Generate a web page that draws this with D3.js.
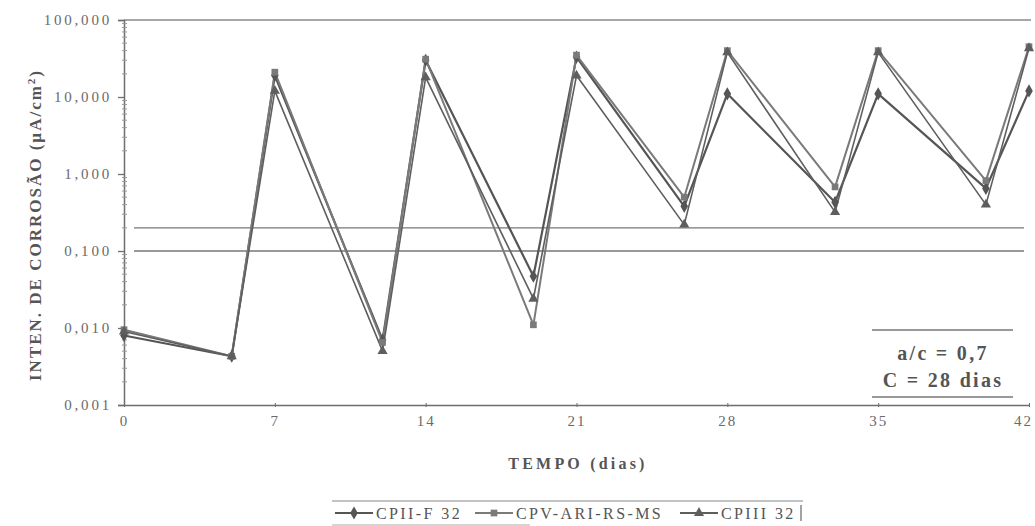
<!DOCTYPE html>
<html>
<head>
<meta charset="utf-8">
<script src="https://cdn.jsdelivr.net/npm/d3@7"></script>
<style>
  body { margin: 0; background: #fff; }
  svg text { font-family: "Liberation Serif", "DejaVu Serif", serif; }
</style>
</head>
<body>
<svg id="chart" width="1035" height="526"></svg>
<script>
// days of measurement
let days = [0, 5, 7, 12, 14, 19, 21, 26, 28, 33, 35, 40, 42];

// corrosion intensity (uA/cm2) per cement
let cpiiF32 = [0.008, 0.0043, 19, 0.007, 30, 0.047, 33, 0.38, 11, 0.43, 11, 0.65, 12];
let cpvAri = [0.0095, 0.0043, 21, 0.0065, 31, 0.011, 35, 0.5, 40, 0.68, 40, 0.82, 45];
let cpiii32 = [0.009, 0.0043, 12, 0.005, 18, 0.024, 19, 0.22, 38, 0.32, 38, 0.4, 43];

let seriesNames = ["CPII-F 32", "CPV-ARI-RS-MS", "CPIII 32"];
let xTicks = [0, 7, 14, 21, 28, 35, 42];
let yTicks = [0.001, 0.01, 0.1, 1, 10, 100];
let yTickLabels = ["0,001", "0,010", "0,100", "1,000", "10,000", "100,000"];
let refLines = [0.2, 0.1];

let series = [
  { name: seriesNames[0], values: cpiiF32, color: "#555", marker: "diamond", width: 2.2 },
  { name: seriesNames[1], values: cpvAri, color: "#7a7a7a", marker: "square", width: 2 },
  { name: seriesNames[2], values: cpiii32, color: "#5e5e5e", marker: "triangle", width: 1.6 }
];

var svg = d3.select("#chart");
var plotLeft = 124, plotRight = 1029, plotTop = 20, plotBottom = 405;

var x = d3.scaleLinear().domain([0, 42]).range([plotLeft, plotRight]);
var y = d3.scaleLog().domain([0.001, 100]).range([plotBottom, plotTop]);

var axisColor = "#6e6e6e";

// top frame line
svg.append("line")
  .attr("x1", plotLeft).attr("x2", plotRight + 2)
  .attr("y1", plotTop).attr("y2", plotTop)
  .attr("stroke", "#8a8a8a").attr("stroke-width", 1.3);

// reference lines
svg.selectAll(".ref")
  .data(refLines)
  .enter().append("line")
  .attr("class", "ref")
  .attr("x1", plotLeft + 10).attr("x2", plotRight - 5)
  .attr("y1", function(d) { return y(d); })
  .attr("y2", function(d) { return y(d); })
  .attr("stroke", "#777").attr("stroke-width", 1.3);

// y axis
var yMinor = [];
for (let p = -3; p < 2; p++) {
  for (let m = 2; m <= 9; m++) yMinor.push(m * Math.pow(10, p));
}
var yAxisG = svg.append("g")
  .attr("transform", "translate(" + plotLeft + ",0)")
  .call(d3.axisLeft(y).tickValues(yTicks).tickSize(6)
    .tickFormat(function(d, i) { return yTickLabels[i]; }));
yAxisG.select(".domain").attr("stroke", axisColor).attr("stroke-width", 1.5);
yAxisG.selectAll(".tick line").attr("stroke", axisColor).attr("stroke-width", 1.3);
yAxisG.selectAll(".tick text")
  .attr("fill", "#6a6a6a").style("font-size", "15px").style("letter-spacing", "2.8px")
  .attr("x", -12);

svg.append("g").selectAll("line")
  .data(yMinor)
  .enter().append("line")
  .attr("x1", plotLeft - 2).attr("x2", plotLeft + 3)
  .attr("y1", function(d) { return y(d); })
  .attr("y2", function(d) { return y(d); })
  .attr("stroke", "#999").attr("stroke-width", 1);

// x axis
var xAxisG = svg.append("g")
  .attr("transform", "translate(0," + plotBottom + ")")
  .call(d3.axisBottom(x).tickValues(xTicks).tickSize(4).tickSizeOuter(0));
xAxisG.select(".domain").attr("stroke", axisColor).attr("stroke-width", 1.5);
xAxisG.selectAll(".tick line").attr("stroke", axisColor).attr("transform", "translate(0,-2)");
xAxisG.selectAll(".tick text")
  .attr("fill", "#6a6a6a").style("font-size", "15px").attr("y", 10)
  .style("letter-spacing", "2px")
  .attr("dx", function(d) { return d === 42 ? -6 : 0; });

// lines and markers
var line = d3.line()
  .x(function(d, i) { return x(days[i]); })
  .y(function(d) { return y(d); });

var symbolFor = {
  diamond: d3.symbol().type(d3.symbolDiamond).size(50),
  square: d3.symbol().type(d3.symbolSquare).size(45),
  triangle: d3.symbol().type(d3.symbolTriangle).size(45)
};

series.forEach(function(s) {
  svg.append("path")
    .datum(s.values)
    .attr("d", line)
    .attr("fill", "none")
    .attr("stroke", s.color)
    .attr("stroke-width", s.width)
    .attr("stroke-linejoin", "round");
});
series.forEach(function(s) {
  svg.append("g").selectAll("path")
    .data(s.values)
    .enter().append("path")
    .attr("d", symbolFor[s.marker])
    .attr("transform", function(d, i) { return "translate(" + x(days[i]) + "," + y(d) + ")"; })
    .attr("fill", s.color);
});

// axis titles
svg.append("text")
  .attr("transform", "translate(41,225) rotate(-90)")
  .attr("text-anchor", "middle")
  .attr("fill", "#555")
  .style("font-size", "17px").style("font-weight", "bold").style("letter-spacing", "2px")
  .html('INTEN. DE CORROSÃO (µA/cm<tspan baseline-shift="super" font-size="11px">2</tspan>)');

svg.append("text")
  .attr("x", 578).attr("y", 469)
  .attr("text-anchor", "middle")
  .attr("fill", "#555")
  .style("font-size", "16px").style("font-weight", "bold")
  .style("letter-spacing", "3.2px")
  .text("TEMPO (dias)");

// annotation box
var ann = svg.append("g");
[330, 397].forEach(function(yy) {
  ann.append("line")
    .attr("x1", 872).attr("x2", 1013)
    .attr("y1", yy).attr("y2", yy)
    .attr("stroke", "#777").attr("stroke-width", 1.3);
});
ann.append("text").attr("x", 943).attr("y", 360)
  .attr("text-anchor", "middle").attr("fill", "#555")
  .style("font-size", "20px").style("font-weight", "bold").style("letter-spacing", "2.3px")
  .text("a/c = 0,7");
ann.append("text").attr("x", 943).attr("y", 387)
  .attr("text-anchor", "middle").attr("fill", "#555")
  .style("font-size", "20px").style("font-weight", "bold").style("letter-spacing", "2.3px")
  .text("C = 28 dias");

// legend
var leg = svg.append("g");
leg.append("line").attr("x1", 332).attr("x2", 803).attr("y1", 501).attr("y2", 501)
  .attr("stroke", "#888").attr("stroke-width", 1.2);
leg.append("line").attr("x1", 332).attr("x2", 530).attr("y1", 525).attr("y2", 525)
  .attr("stroke", "#aaa").attr("stroke-width", 1);
leg.append("line").attr("x1", 801).attr("x2", 801).attr("y1", 505).attr("y2", 521)
  .attr("stroke", "#666").attr("stroke-width", 1.2);

var legX = [335, 475, 680];
series.forEach(function(s, i) {
  var g = leg.append("g").attr("transform", "translate(" + legX[i] + ",513)");
  g.append("line").attr("x1", 0).attr("x2", 38).attr("y1", 0).attr("y2", 0)
    .attr("stroke", s.color).attr("stroke-width", 1.8);
  g.append("path").attr("d", symbolFor[s.marker]).attr("transform", "translate(19,0)")
    .attr("fill", s.color);
  g.append("text").attr("x", 41).attr("y", 6)
    .attr("fill", "#555")
    .style("font-size", "16px").style("letter-spacing", "2.4px")
    .text(s.name);
});
</script>
</body>
</html>
